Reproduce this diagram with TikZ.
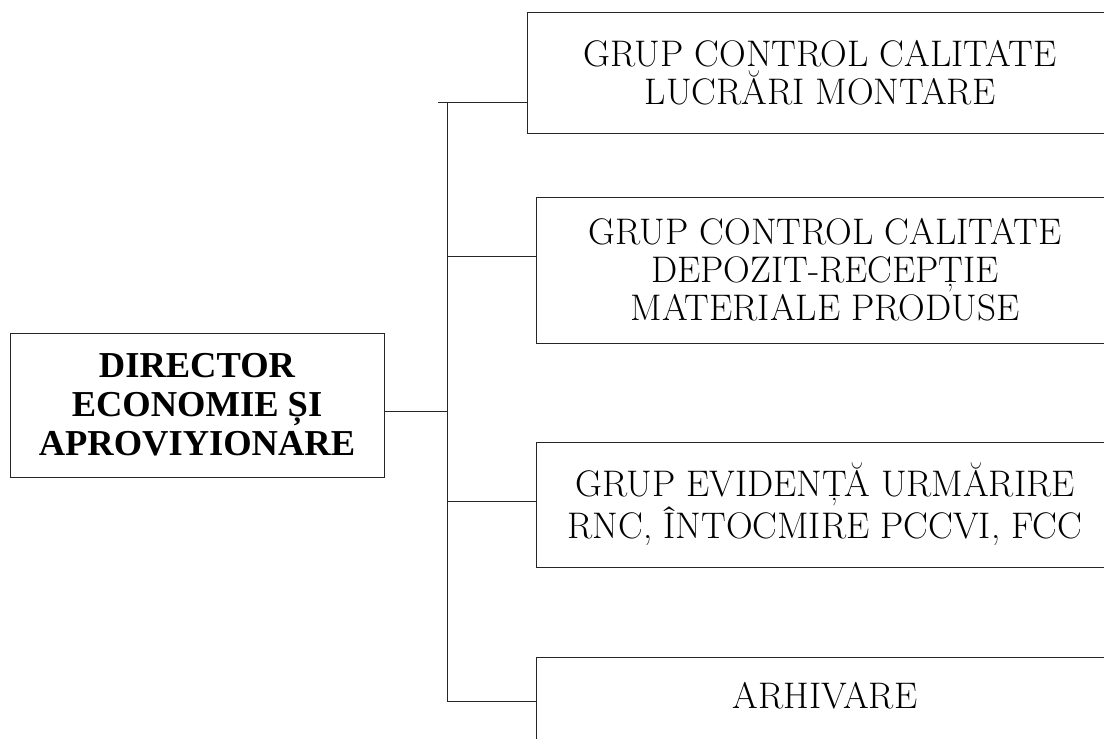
\documentclass[tikz,border=0pt]{standalone}
\usepackage{fontspec}
\newfontfamily\timesfont{Liberation Serif}
\begin{document}
\begin{tikzpicture}[x=1pt,y=-1pt]
\tikzstyle{every node}=[]
\tikzstyle{orgbox}=[draw=black!85,line width=0.9pt,align=center,inner sep=0pt,font=\fontsize{37}{38}\selectfont]
\tikzstyle{orgline}=[draw=black!85,line width=0.9pt]
\useasboundingbox (0,0) rectangle (1104,739);
\node[orgbox,minimum width=374pt,minimum height=144pt,font=\timesfont\bfseries\fontsize{36.5}{39}\selectfont] (dir)
at (197,405) {DIRECTOR\\ECONOMIE ȘI\\APROVIYIONARE};
\node[orgbox,minimum width=586pt,minimum height=121pt] (b1) at (820,72.5) {GRUP CONTROL CALITATE\\LUCRĂRI MONTARE};
\node[orgbox,minimum width=578pt,minimum height=146pt] (b2) at (825,270) {GRUP CONTROL CALITATE\\DEPOZIT-RECEPȚIE\\MATERIALE PRODUSE};
\node[orgbox,minimum width=578pt,minimum height=125pt] (b3) at (825,504.5) {GRUP EVIDENȚĂ URMĂRIRE\\RNC, ÎNTOCMIRE PCCVI, FCC};
\node[orgbox,minimum width=578pt,text height=51pt,text depth=90pt,anchor=north] (b4) at (825,657) {ARHIVARE};
% trunk
\coordinate (j) at (447,411);
\coordinate (t1) at (447,102);
\coordinate (t2) at (447,256);
\coordinate (t3) at (447,501);
\coordinate (t4) at (447,701);
\path[orgline] (t1) -- (t4);
\path[]
    (dir.east |- j) [-,orgline] edge (j)
    ([xshift=-9pt]t1) [-,orgline] edge (t1 -| b1.west)
    (t2) [-,orgline] edge (t2 -| b2.west)
    (t3) [-,orgline] edge (t3 -| b3.west)
    (t4) [-,orgline] edge (t4 -| b4.west);
\end{tikzpicture}
\end{document}
